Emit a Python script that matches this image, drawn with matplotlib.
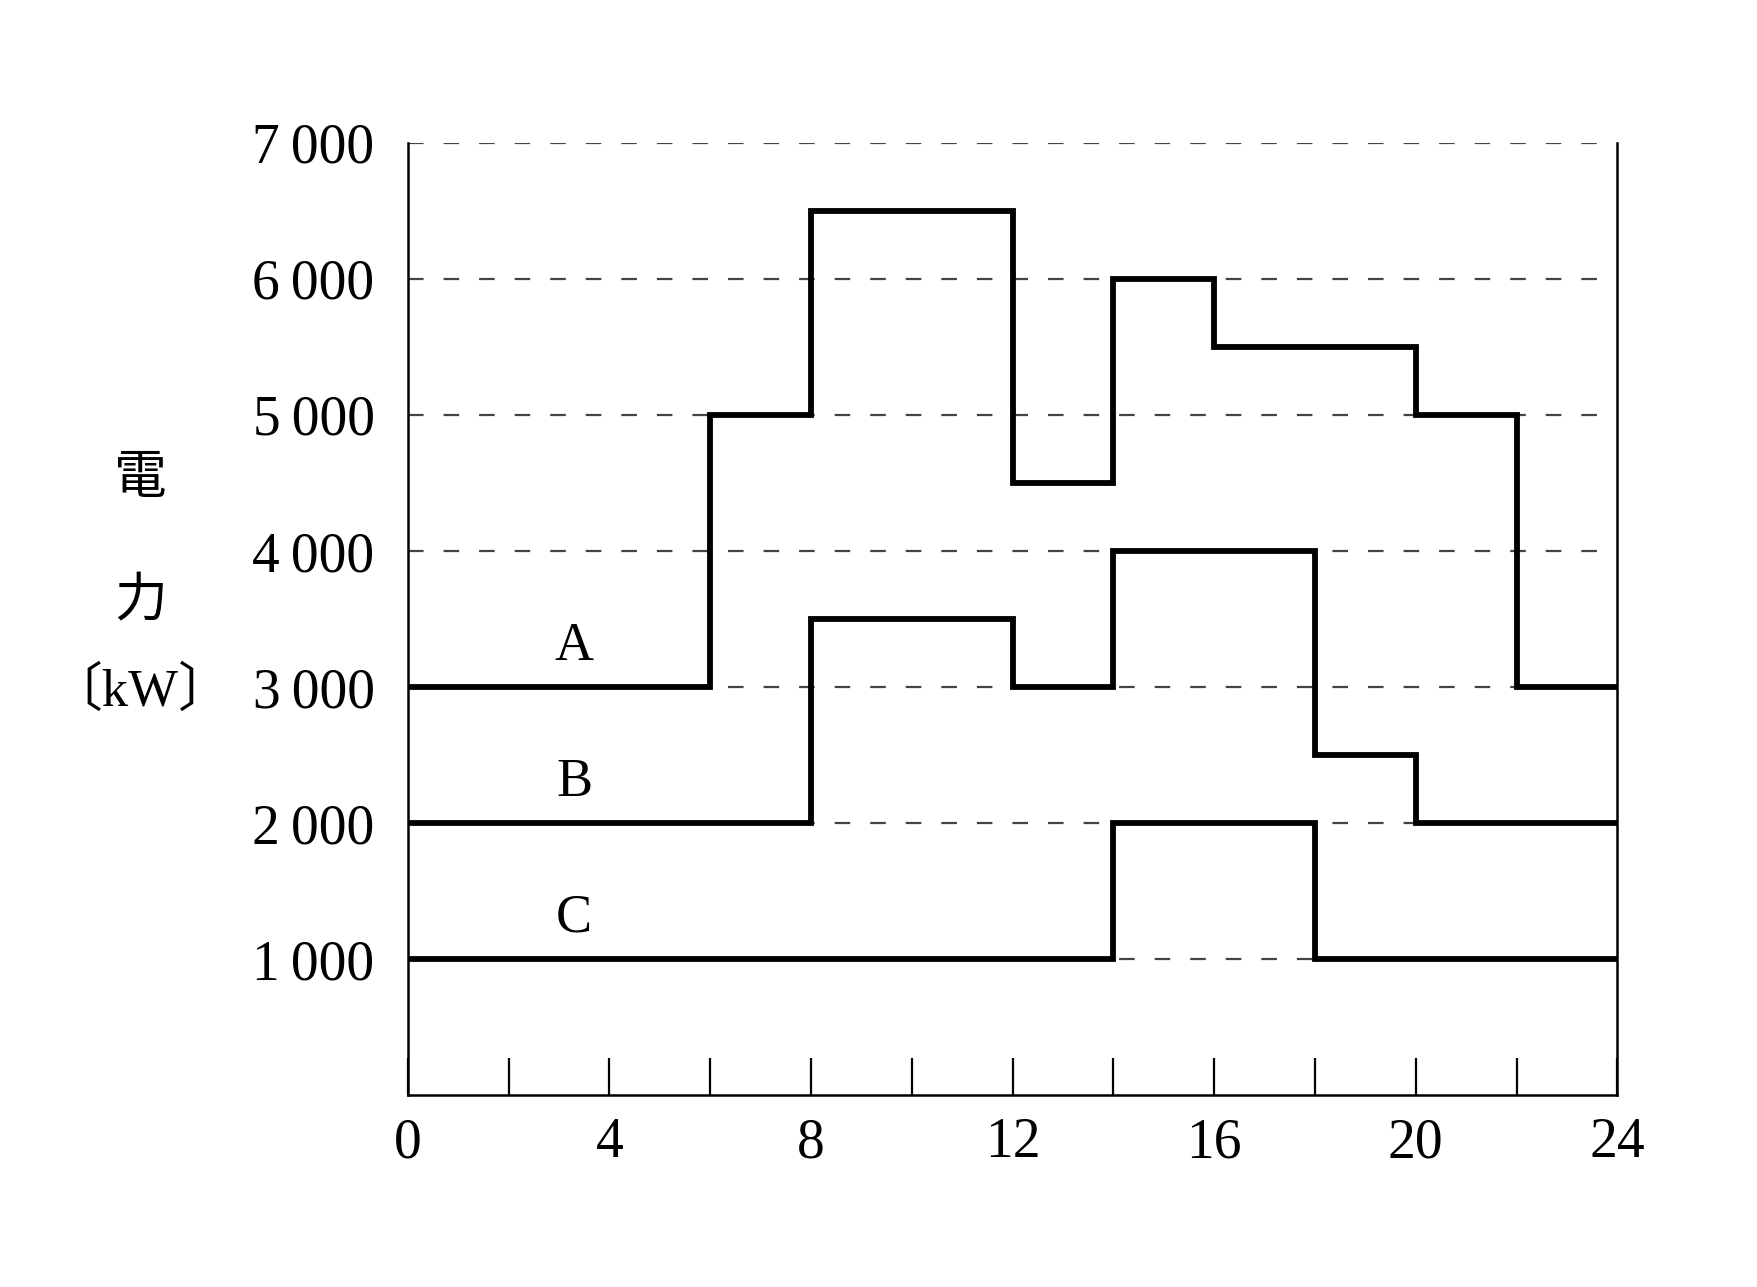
import matplotlib
matplotlib.use("Agg")
import matplotlib.pyplot as plt
import numpy as np

plt.rcParams['font.family'] = ['Liberation Serif', 'Noto Sans CJK JP', 'DejaVu Serif']

# step data: hour where each level starts, and the level [kW]
a_hours = [0, 6, 8, 12, 14, 16, 20, 22, 24]
a_kw = [3000, 5000, 6500, 4500, 6000, 5500, 5000, 3000]
b_hours = [0, 8, 12, 14, 18, 20, 24]
b_kw = [2000, 3500, 3000, 4000, 2500, 2000]
c_hours = [0, 14, 18, 24]
c_kw = [1000, 2000, 1000]

series_names = ["A", "B", "C"]
name_pos_x = [3.3, 3.3, 3.3]
name_pos_y = [3300, 2300, 1300]

y_ticks = [1000, 2000, 3000, 4000, 5000, 6000, 7000]
x_ticks = [0, 4, 8, 12, 16, 20, 24]

fig = plt.figure(figsize=(17.58, 12.87), dpi=100)
ax = fig.add_axes([0.232, 0.149, 0.688, 0.740])

# dashed horizontal guides
for y in y_ticks:
    ax.axhline(y, color="#444444", lw=1.6, dashes=(7, 9), zorder=1)

for hours, kw in [(a_hours, a_kw), (b_hours, b_kw), (c_hours, c_kw)]:
    ax.step(hours, kw + [kw[-1]], where="post", color="black", lw=4.2,
            solid_joinstyle="miter", zorder=3)

for name, x, y in zip(series_names, name_pos_x, name_pos_y):
    ax.text(x, y, name, fontsize=39, ha="center", va="center")

ax.set_xlim(0, 24)
ax.set_ylim(0, 7000)
ax.spines["top"].set_visible(False)
for s in ["left", "right", "bottom"]:
    ax.spines[s].set_linewidth(1.8)

ax.set_xticks(x_ticks)
ax.set_xticklabels([str(x) for x in x_ticks], fontsize=40)
ax.set_xticks(np.arange(0, 25, 2), minor=True)
ax.tick_params(axis="x", which="both", direction="in", length=27, width=1.6, pad=16)
ax.set_yticks(y_ticks)
ax.set_yticklabels([f"{v // 1000}\u2009{v % 1000:03d}" for v in y_ticks], fontsize=40)
ax.tick_params(axis="y", length=0, pad=24)

# vertical y label
fig.text(0.080, 0.627, "電", fontsize=38, ha="center", va="center")
fig.text(0.080, 0.532, "力", fontsize=38, ha="center", va="center")
fig.text(0.080, 0.463, "〔kW〕", fontsize=38, ha="center", va="center")

fig.savefig("out.png", dpi=100, facecolor="white")
